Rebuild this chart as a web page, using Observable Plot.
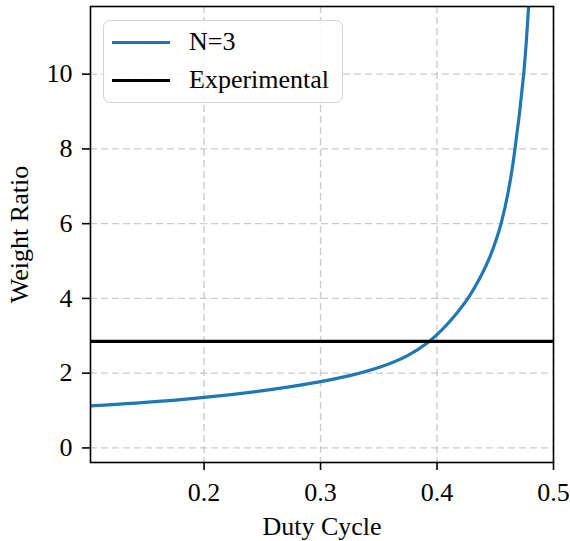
<!DOCTYPE html>
<html>
<head>
<meta charset="utf-8">
<script src="https://cdn.jsdelivr.net/npm/d3@7"></script>
<script src="https://cdn.jsdelivr.net/npm/@observablehq/plot@0.6"></script>
<style>
  html, body { margin: 0; padding: 0; background: #fff; }
  #wrap { position: relative; width: 570px; height: 541px; font-family: "Liberation Serif", "Times New Roman", serif; }
  .legend { position: absolute; left: 103px; top: 20px; width: 240px; height: 83px;
    border: 1.5px solid #d4d4d4; border-radius: 7px; background: rgba(255,255,255,0.85); box-sizing: border-box; }
  .legend .row { position: absolute; left: 8px; display: flex; align-items: center; }
  .legend .sw { width: 58px; height: 0; border-top: 3px solid; margin-right: 19px; }
  .legend .lbl { font-size: 26px; line-height: 26px; color: #000; }
</style>
</head>
<body>
<div id="wrap"></div>
<script>
// Weight ratio of the N=3 design versus duty cycle
const dutyCycle = [0.1025, 0.1413, 0.2, 0.2616, 0.3, 0.326, 0.3518, 0.3747, 0.3933, 0.4033, 0.415, 0.4265, 0.4377, 0.4455, 0.4505, 0.455, 0.4612, 0.4663, 0.4744, 0.4786];
const weightRatio = [1.125, 1.196, 1.35, 1.58, 1.775, 1.94, 2.17, 2.47, 2.85, 3.13, 3.53, 4.0, 4.6, 5.12, 5.54, 6.0, 6.86, 7.85, 10.0, 11.81];
// Measured weight ratio
const experimental = 2.85;
const xTicks = [0.2, 0.3, 0.4, 0.5];
const yTicks = [0, 2, 4, 6, 8, 10];
const seriesName = "N=3";
const refName = "Experimental";

const curve = dutyCycle.map((d, i) => ({d, w: weightRatio[i]}));
const grid = {stroke: "#b0b0b0", strokeOpacity: 0.65, strokeWidth: 1.4, strokeDasharray: "7,4"};
const serif = "'Liberation Serif', 'Times New Roman', serif";

const chart = Plot.plot({
  width: 570,
  height: 541,
  marginLeft: 90,
  marginRight: 17,
  marginTop: 6,
  marginBottom: 79,
  style: {fontFamily: serif, fontSize: "26px", color: "#000", background: "#fff"},
  x: {domain: [0.1025, 0.5]},
  y: {domain: [-0.39, 11.81]},
  marks: [
    Plot.gridX(xTicks, grid),
    Plot.gridY(yTicks, grid),
    Plot.line(curve, {x: "d", y: "w", stroke: "#1f77b4", strokeWidth: 3.2, curve: "catmull-rom", clip: true}),
    Plot.ruleY([experimental], {stroke: "#000", strokeWidth: 3.2}),
    Plot.frame({stroke: "#000", strokeWidth: 1.6}),
    Plot.axisX(xTicks, {tickSize: 8, tickPadding: 12, strokeWidth: 1.6, tickFormat: d3.format(".1f"),
      label: "Duty Cycle", labelAnchor: "center", labelArrow: "none", labelOffset: 72}),
    Plot.axisY(yTicks, {tickSize: 8, tickPadding: 10, strokeWidth: 1.6, tickFormat: d3.format("d"),
      label: "Weight Ratio", labelAnchor: "center", labelArrow: "none", labelOffset: 81})
  ]
});

// Serif face on every label, tick numbers included
d3.select(chart).selectAll("text, g")
  .style("font-family", serif)
  .style("font-variant", "normal");

const wrap = document.getElementById("wrap");
wrap.appendChild(chart);

// Legend box in the upper-left corner of the plot area
const legend = document.createElement("div");
legend.className = "legend";
[[seriesName, "#1f77b4", 8], [refName, "#000", 46]].forEach(([name, color, top]) => {
  const row = document.createElement("div");
  row.className = "row";
  row.style.top = top + "px";
  const sw = document.createElement("div");
  sw.className = "sw";
  sw.style.borderColor = color;
  const lbl = document.createElement("span");
  lbl.className = "lbl";
  lbl.textContent = name;
  row.append(sw, lbl);
  legend.appendChild(row);
});
wrap.appendChild(legend);
</script>
</body>
</html>
